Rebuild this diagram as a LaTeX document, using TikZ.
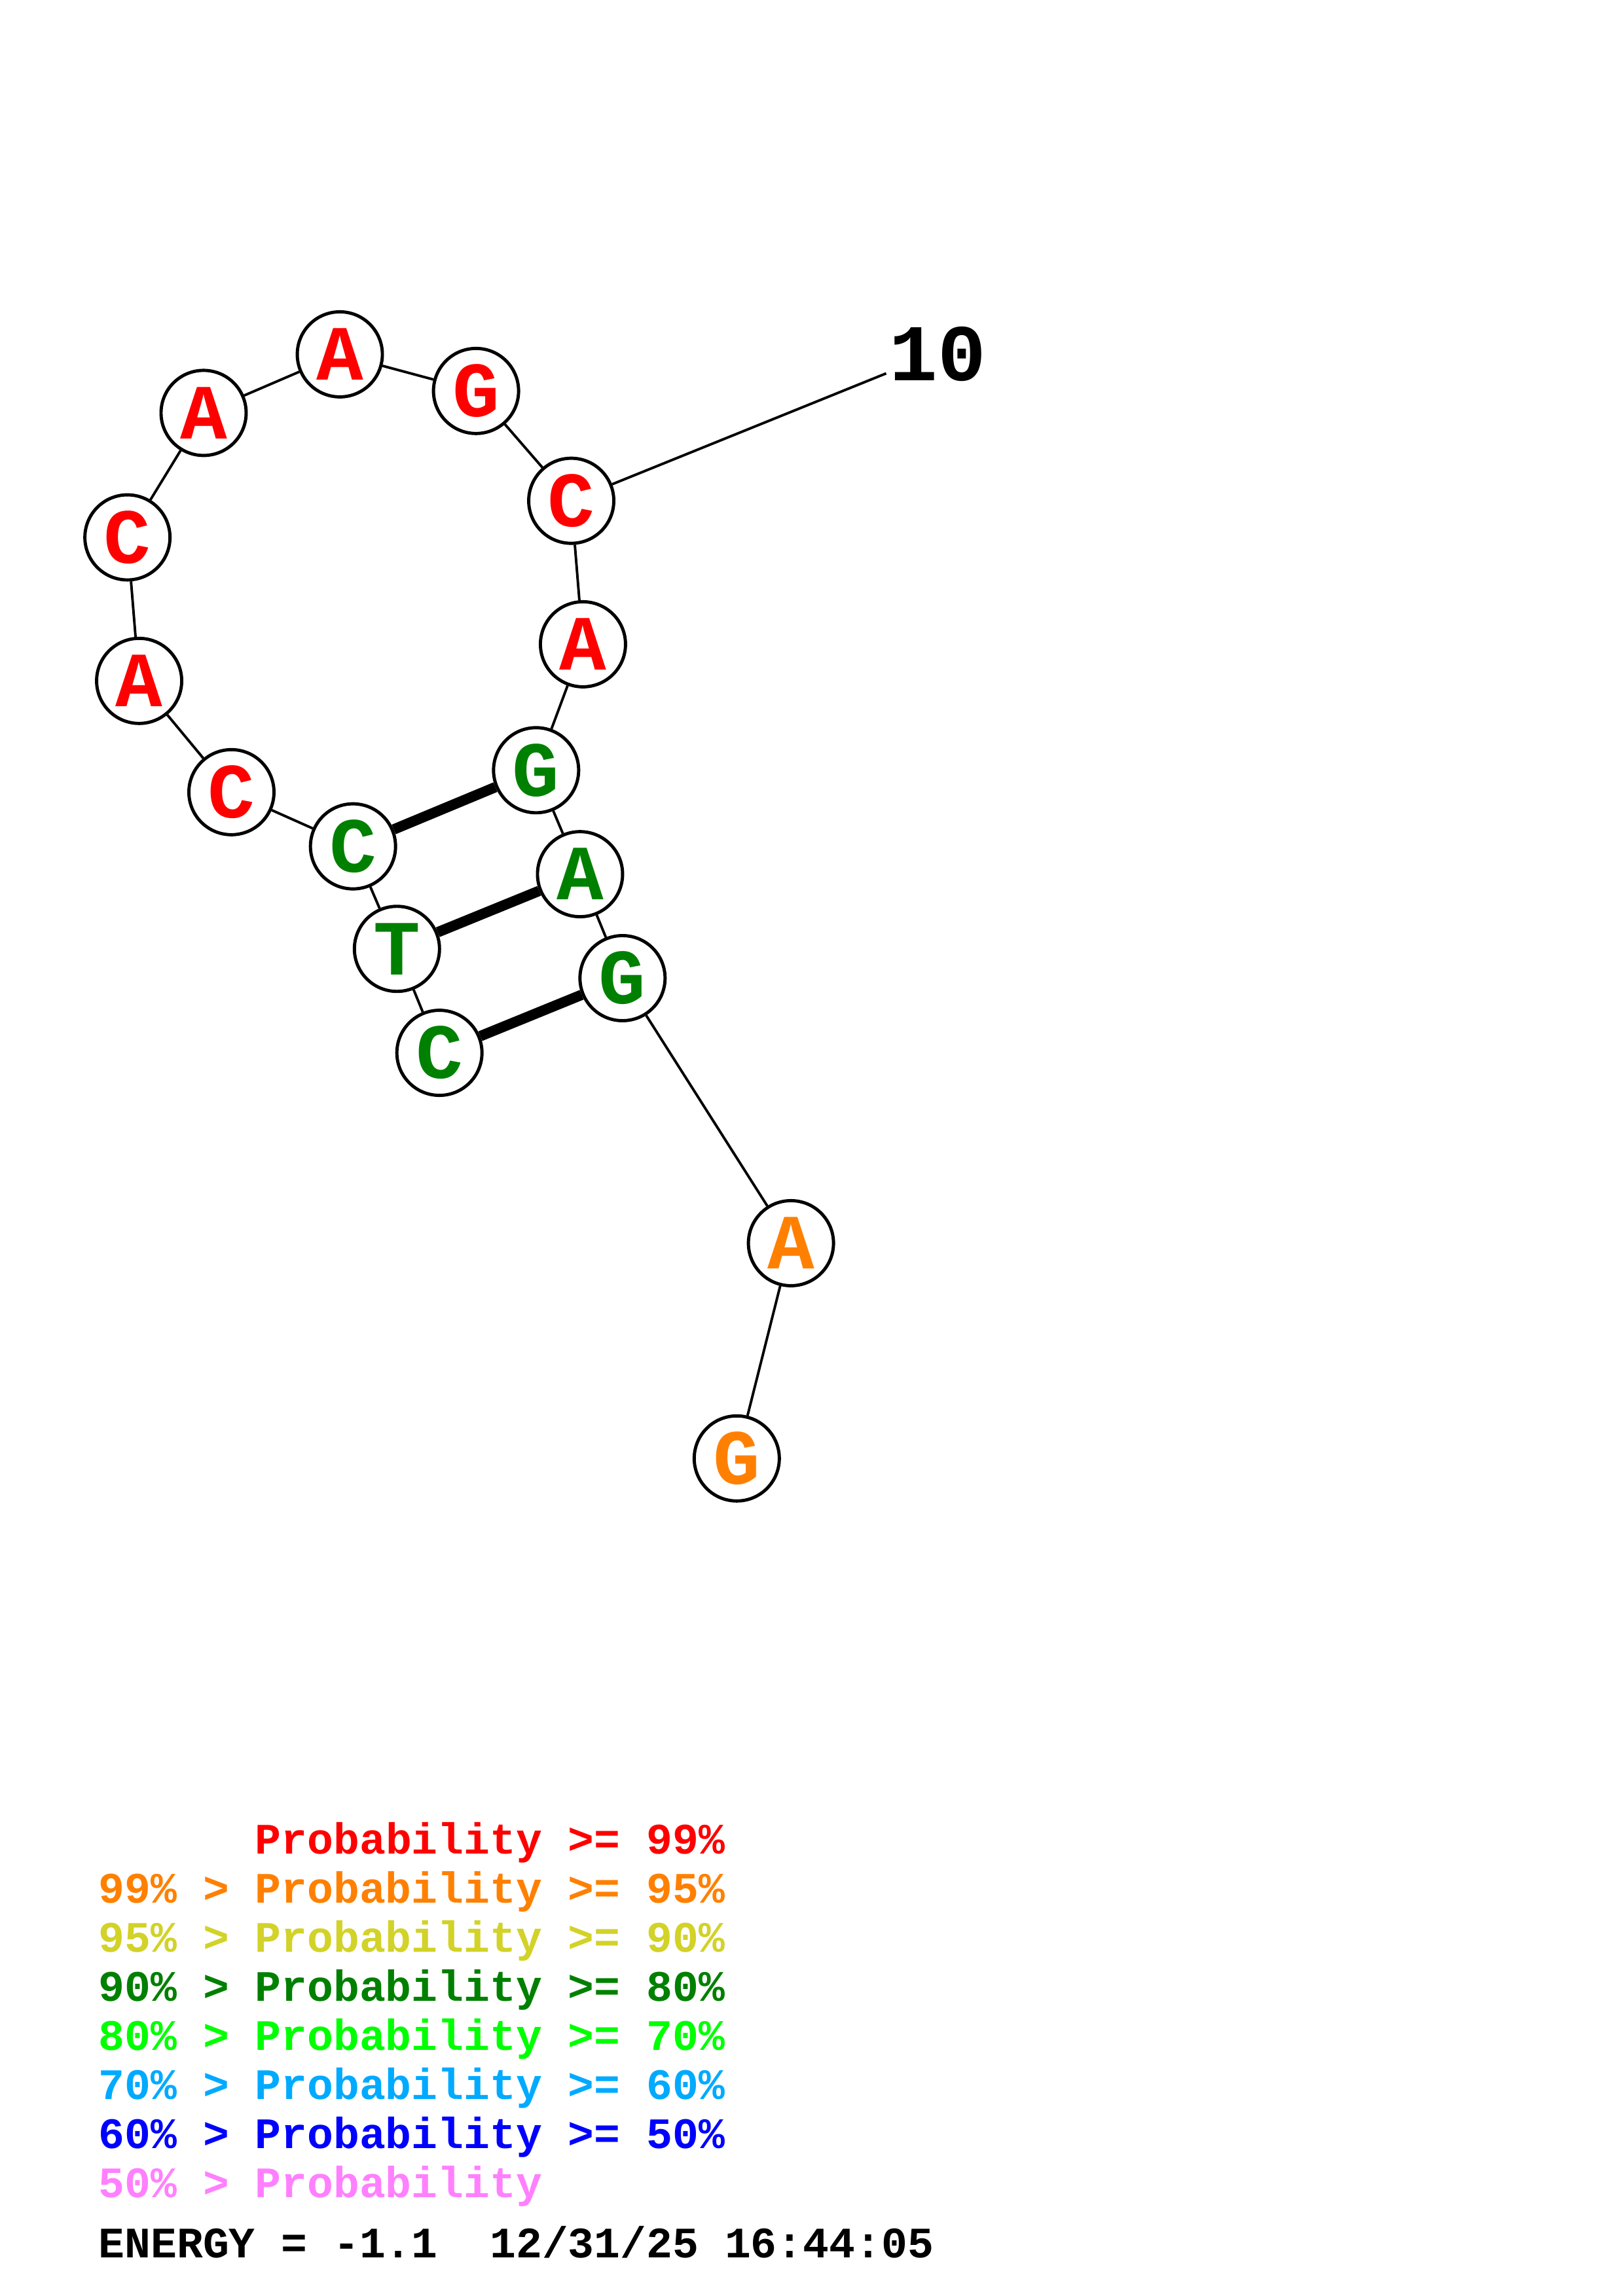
\documentclass[tikz,border=0pt]{standalone}
\usepackage{fontspec}
\setmainfont{Liberation Mono}
\usepackage{xcolor}
\definecolor{prred}{RGB}{255,0,0}
\definecolor{prorange}{RGB}{255,128,0}
\definecolor{pryellow}{RGB}{210,210,40}
\definecolor{prdkgreen}{RGB}{0,128,0}
\definecolor{prgreen}{RGB}{0,255,0}
\definecolor{prsky}{RGB}{0,170,255}
\definecolor{prblue}{RGB}{0,0,255}
\definecolor{prpink}{RGB}{255,128,255}
\tikzstyle{base} = [circle, draw=black, fill=white, line width=1.4pt, minimum size=13mm, inner sep=0pt, font=\fontsize{34}{34}\selectfont\bfseries]
\tikzstyle{backbone} = [line width=1.1pt, color=black]
\tikzstyle{pair} = [line width=4.5pt, color=black]
\tikzstyle{legend} = [anchor=base west, inner sep=0pt, font=\fontsize{18.9}{18.9}\selectfont\bfseries]

\begin{document}
\begin{tikzpicture}[x=0.22374mm, y=-0.22374mm]
    \useasboundingbox (0,0) rectangle (1108,1568);

    % Bases
    \node[base, text=prdkgreen] (n1) at (300,719) {C};
    \node[base, text=prdkgreen] (n2) at (271,648) {T};
    \node[base, text=prdkgreen] (n3) at (241,578) {C};
    \node[base, text=prred] (n4) at (158,541) {C};
    \node[base, text=prred] (n5) at (95,465) {A};
    \node[base, text=prred] (n6) at (87,367) {C};
    \node[base, text=prred] (n7) at (139,282) {A};
    \node[base, text=prred] (n8) at (232,242) {A};
    \node[base, text=prred] (n9) at (325,267) {G};
    \node[base, text=prred] (n10) at (390,342) {C};
    \node[base, text=prred] (n11) at (398,440) {A};
    \node[base, text=prdkgreen] (n12) at (366,526) {G};
    \node[base, text=prdkgreen] (n13) at (396,597) {A};
    \node[base, text=prdkgreen] (n14) at (425,668) {G};
    \node[base, text=prorange] (n15) at (540,849) {A};
    \node[base, text=prorange] (n16) at (503,996) {G};

    % Backbone
    \draw[backbone] (n1) -- (n2);
    \draw[backbone] (n2) -- (n3);
    \draw[backbone] (n3) -- (n4);
    \draw[backbone] (n4) -- (n5);
    \draw[backbone] (n5) -- (n6);
    \draw[backbone] (n6) -- (n7);
    \draw[backbone] (n7) -- (n8);
    \draw[backbone] (n8) -- (n9);
    \draw[backbone] (n9) -- (n10);
    \draw[backbone] (n10) -- (n11);
    \draw[backbone] (n11) -- (n12);
    \draw[backbone] (n12) -- (n13);
    \draw[backbone] (n13) -- (n14);
    \draw[backbone] (n14) -- (n15);
    \draw[backbone] (n15) -- (n16);

    % Pairs
    \draw[pair] (n1) -- (n14);
    \draw[pair] (n2) -- (n13);
    \draw[pair] (n3) -- (n12);

    % Numbering
    \coordinate (tick10) at (605,255);
    \node[anchor=west, inner sep=0pt, font=\fontsize{35}{35}\selectfont\bfseries] (lbl10) at (607,242) {10};
    \draw[backbone] (n10) -- (tick10);

    % Legend
    \node[legend, text=prred] (leg1) at (67,1266) {\phantom{99\% > }Probability >= 99\%};
    \node[legend, text=prorange] (leg2) at (67,1299.5) {99\% > Probability >= 95\%};
    \node[legend, text=pryellow] (leg3) at (67,1333) {95\% > Probability >= 90\%};
    \node[legend, text=prdkgreen] (leg4) at (67,1366.5) {90\% > Probability >= 80\%};
    \node[legend, text=prgreen] (leg5) at (67,1400) {80\% > Probability >= 70\%};
    \node[legend, text=prsky] (leg6) at (67,1433.5) {70\% > Probability >= 60\%};
    \node[legend, text=prblue] (leg7) at (67,1467) {60\% > Probability >= 50\%};
    \node[legend, text=prpink] (leg8) at (67,1500.5) {50\% > Probability};
    \node[legend, text=black] (energy) at (67,1542) {ENERGY = -1.1~~12/31/25 16:44:05};
\end{tikzpicture}
\end{document}
